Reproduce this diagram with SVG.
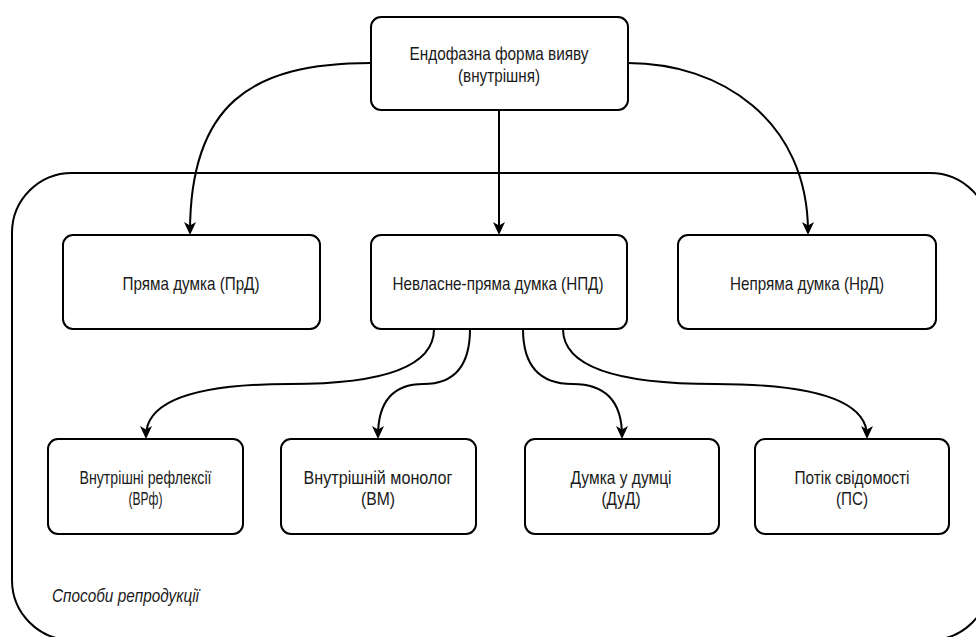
<svg xmlns="http://www.w3.org/2000/svg" width="976" height="637" viewBox="0 0 976 637">
<defs>
<style>
.box{fill:#fff;stroke:#000;stroke-width:2}
.cont{fill:none;stroke:#000;stroke-width:2}
.edge{fill:none;stroke:#000;stroke-width:2}
text{font-family:"Liberation Sans Narrow","Liberation Sans",Arial,sans-serif;font-size:19px;fill:#1a1a1a;text-anchor:middle}
.it{font-style:italic;text-anchor:start}
</style>
<marker id="arr" markerUnits="userSpaceOnUse" markerWidth="14" markerHeight="14" viewBox="0 0 14 14" refX="10" refY="7" orient="auto">
<path d="M13,7 L0,1 L3.5,7 L0,13 Z" fill="#000"/>
</marker>
</defs>
<rect width="976" height="637" fill="#fff"/>
<g id="container">
<rect class="cont" x="12" y="173" width="978" height="467" rx="60" ry="60"/>
<text class="it" x="52" y="602" textLength="147" lengthAdjust="spacingAndGlyphs">Способи репродукції</text>
</g>
<g id="edges">
<path class="edge" d="M499,110 L499,232" marker-end="url(#arr)"/>
<path class="edge" d="M371,63 C250,63 190,105 190,232" marker-end="url(#arr)"/>
<path class="edge" d="M628,63 C720,63 808,120 808,232" marker-end="url(#arr)"/>
<path class="edge" d="M434,329 Q434,384 290,384 Q146,384 146,436" marker-end="url(#arr)"/>
<path class="edge" d="M470,329 Q470,384 423.5,384 Q378,384 378,436" marker-end="url(#arr)"/>
<path class="edge" d="M523,329 Q523,384 572.5,384 Q622,384 622,436" marker-end="url(#arr)"/>
<path class="edge" d="M563,329 Q563,384 715,384 Q867,384 867,436" marker-end="url(#arr)"/>
</g>
<g id="n-endo">
<rect class="box" x="371" y="17" width="257" height="93" rx="10"/>
<text x="499" y="60" textLength="179" lengthAdjust="spacingAndGlyphs">Ендофазна форма вияву</text>
<text x="499" y="82" textLength="82" lengthAdjust="spacingAndGlyphs">(внутрішня)</text>
</g>
<g id="n-prd">
<rect class="box" x="63" y="235" width="257" height="94" rx="10"/>
<text x="191" y="290" textLength="137" lengthAdjust="spacingAndGlyphs">Пряма думка (ПрД)</text>
</g>
<g id="n-npd">
<rect class="box" x="371" y="235" width="256" height="94" rx="10"/>
<text x="498" y="290" textLength="211" lengthAdjust="spacingAndGlyphs">Невласне-пряма думка (НПД)</text>
</g>
<g id="n-nrd">
<rect class="box" x="678" y="235" width="258" height="94" rx="10"/>
<text x="807" y="290" textLength="154" lengthAdjust="spacingAndGlyphs">Непряма думка (НрД)</text>
</g>
<g id="n-vrf">
<rect class="box" x="48" y="439" width="195" height="95" rx="10"/>
<text x="145.5" y="484" textLength="132" lengthAdjust="spacingAndGlyphs">Внутрішні рефлексії</text>
<text x="145.5" y="505" textLength="34" lengthAdjust="spacingAndGlyphs">(ВРф)</text>
</g>
<g id="n-vm">
<rect class="box" x="281" y="439" width="195" height="95" rx="10"/>
<text x="378" y="484" textLength="149" lengthAdjust="spacingAndGlyphs">Внутрішній монолог</text>
<text x="378" y="505" textLength="34" lengthAdjust="spacingAndGlyphs">(ВМ)</text>
</g>
<g id="n-dud">
<rect class="box" x="525" y="439" width="194" height="95" rx="10"/>
<text x="621" y="484" textLength="101" lengthAdjust="spacingAndGlyphs">Думка у думці</text>
<text x="621" y="505" textLength="39" lengthAdjust="spacingAndGlyphs">(ДуД)</text>
</g>
<g id="n-ps">
<rect class="box" x="755" y="439" width="194" height="95" rx="10"/>
<text x="852" y="484" textLength="115" lengthAdjust="spacingAndGlyphs">Потік свідомості</text>
<text x="852" y="505" textLength="32" lengthAdjust="spacingAndGlyphs">(ПС)</text>
</g>
</svg>
